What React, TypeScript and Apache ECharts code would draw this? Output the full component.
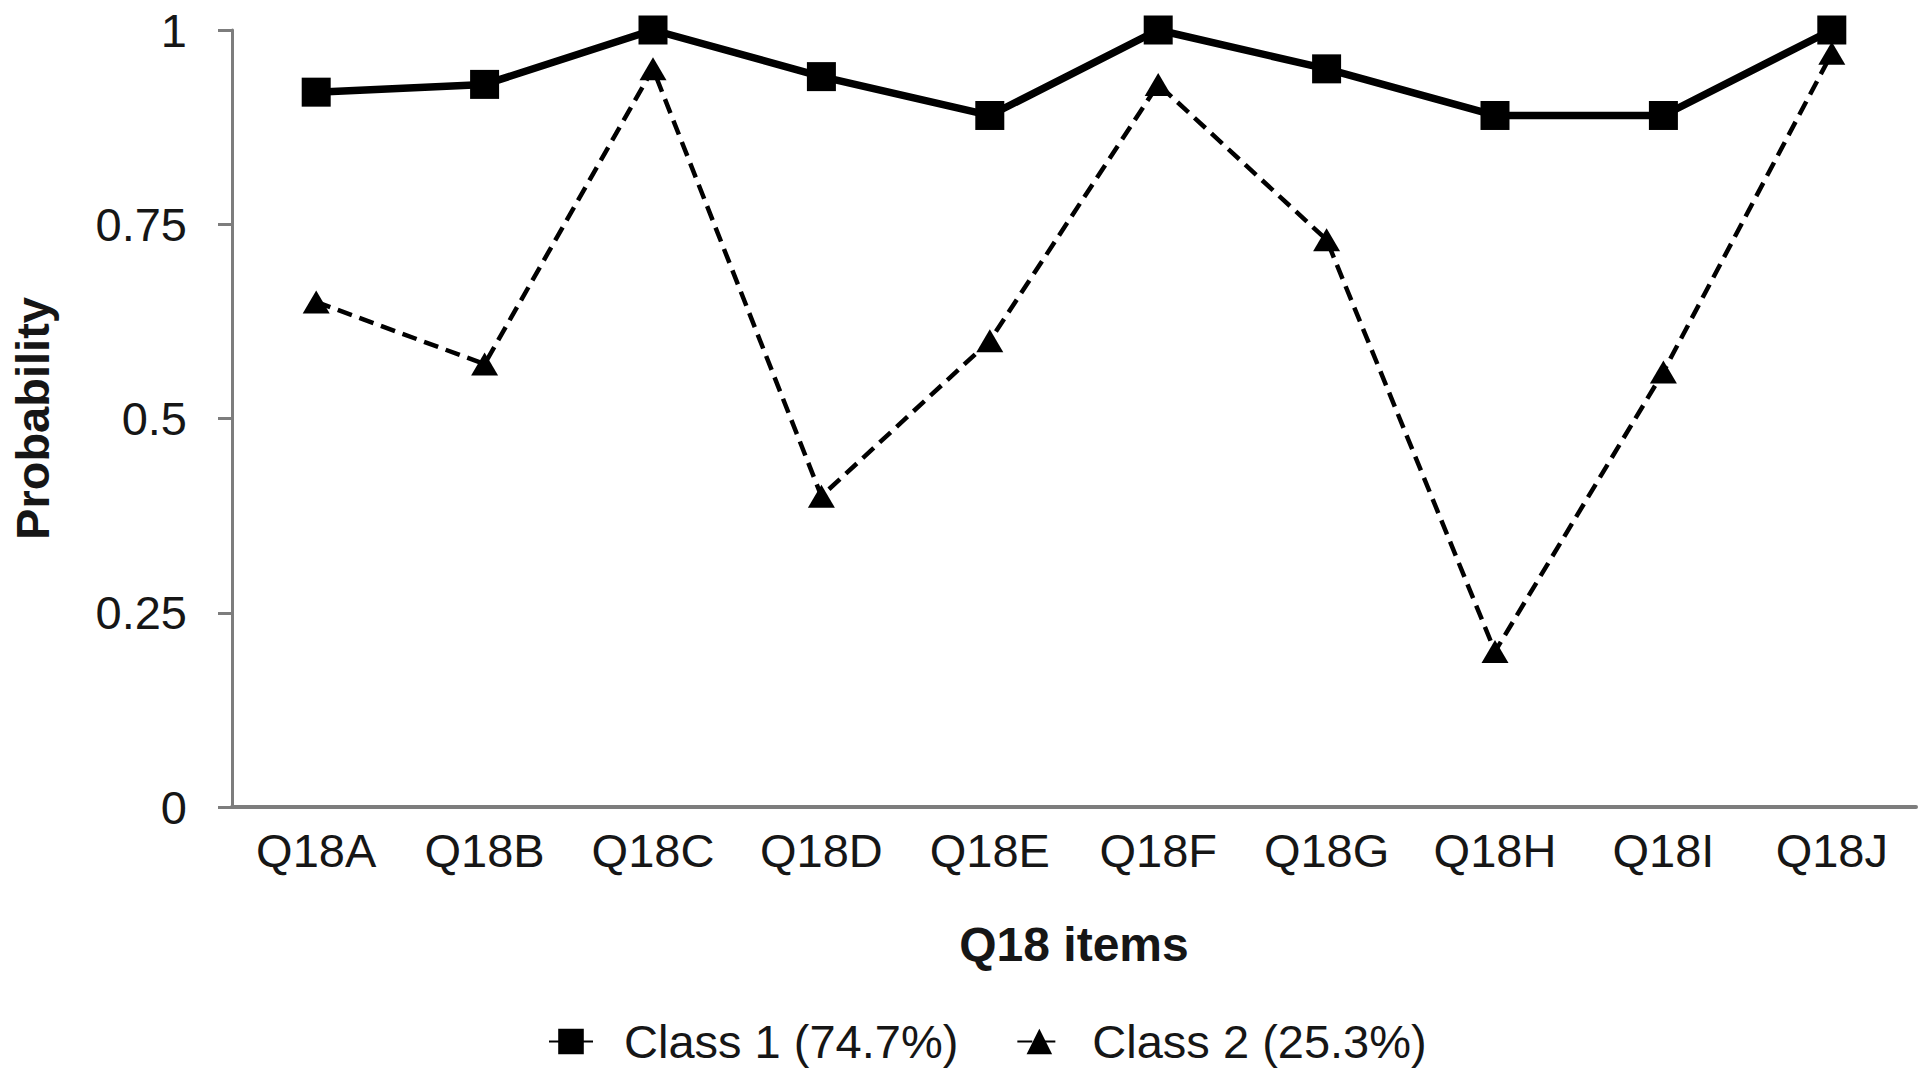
import React, { useEffect, useRef } from "react";
import * as echarts from "echarts";

const categories = ["Q18A", "Q18B", "Q18C", "Q18D", "Q18E", "Q18F", "Q18G", "Q18H", "Q18I", "Q18J"];
const class1Values = [0.92, 0.93, 1.0, 0.94, 0.89, 1.0, 0.95, 0.89, 0.89, 1.0];
const class2Values = [0.65, 0.57, 0.95, 0.4, 0.6, 0.93, 0.73, 0.2, 0.56, 0.97];
const seriesNames = ["Class 1 (74.7%)", "Class 2 (25.3%)"];
const yAxisTitle = "Probability";
const xAxisTitle = "Q18 items";

const FONT = "'Liberation Sans', Arial, Helvetica, sans-serif";
const AXIS_GREY = "#7d7d7d";
const TEXT = "#161616";

export default function App() {
  const ref = useRef<HTMLDivElement>(null);

  useEffect(() => {
    if (!ref.current) return;
    const chart = echarts.init(ref.current, undefined, { renderer: "svg" });
    chart.setOption({
      animation: false,
      backgroundColor: "#ffffff",
      textStyle: { fontFamily: FONT },
      grid: { left: 232, right: 4, top: 30, bottom: 268, containLabel: false },
      legend: {
        data: seriesNames,
        left: 543,
        top: 1013,
        itemWidth: 44,
        itemHeight: 32,
        itemGap: 58,
        textStyle: { fontFamily: FONT, fontSize: 47, color: TEXT, padding: [0, 0, 0, 26] },
      },
      xAxis: {
        type: "category",
        data: categories,
        boundaryGap: true,
        name: xAxisTitle,
        nameLocation: "middle",
        nameGap: 113,
        nameTextStyle: { fontFamily: FONT, fontSize: 48, fontWeight: "bold", color: TEXT },
        axisLine: { show: true, lineStyle: { color: AXIS_GREY, width: 4 } },
        axisTick: { show: false },
        axisLabel: { fontFamily: FONT, fontSize: 47, color: TEXT, margin: 20 },
        splitLine: { show: false },
      },
      yAxis: {
        type: "value",
        min: 0,
        max: 1,
        interval: 0.25,
        name: yAxisTitle,
        nameLocation: "middle",
        nameGap: 176,
        nameRotate: 90,
        nameTextStyle: { fontFamily: FONT, fontSize: 47, fontWeight: "bold", color: TEXT },
        axisLine: { show: true, lineStyle: { color: AXIS_GREY, width: 3 } },
        axisTick: { show: true, inside: false, length: 14, lineStyle: { color: AXIS_GREY, width: 3 } },
        axisLabel: { fontFamily: FONT, fontSize: 47, color: TEXT, margin: 45 },
        splitLine: { show: false },
      },
      series: [
        {
          name: seriesNames[0],
          type: "line",
          data: class1Values,
          symbol: "rect",
          symbolSize: 29,
          z: 3,
          lineStyle: { color: "#000000", width: 7.5, type: "solid" },
          itemStyle: { color: "#000000" },
        },
        {
          name: seriesNames[1],
          type: "line",
          data: class2Values,
          symbol: "triangle",
          symbolSize: [27, 23],
          z: 2,
          lineStyle: { color: "#000000", width: 4.5, type: [15, 8] },
          itemStyle: { color: "#000000" },
        },
      ],
    });
    return () => chart.dispose();
  }, []);

  return (
    <div
      ref={ref}
      style={{ position: "fixed", left: 0, top: 0, width: 1920, height: 1075, background: "#fff" }}
    />
  );
}
